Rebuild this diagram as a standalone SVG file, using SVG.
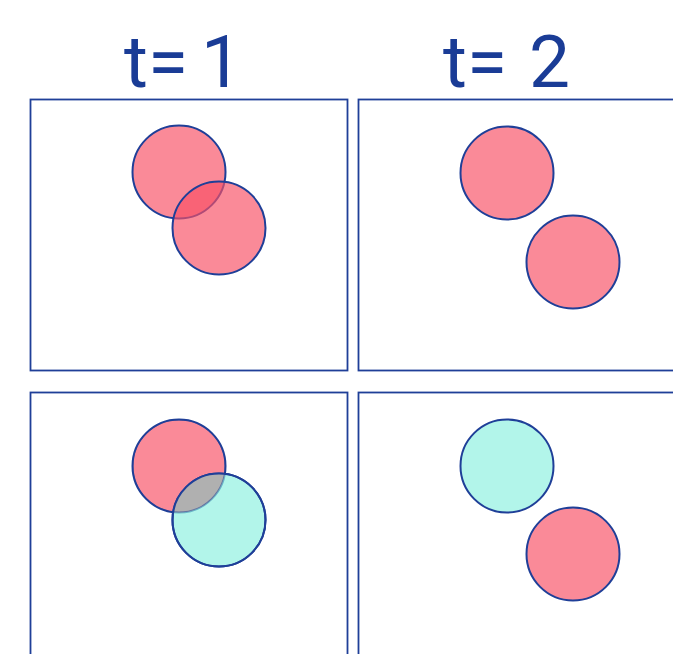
<svg xmlns="http://www.w3.org/2000/svg" width="673" height="654" viewBox="0 0 673 654">
<style>
.box{fill:none;stroke:#1f3f98;stroke-width:1.8}
.pink{fill:rgb(248,80,102);fill-opacity:0.67;stroke:#1f3f98;stroke-width:2}
.cyan{fill:rgb(140,240,224);fill-opacity:0.67;stroke:#1f3f98;stroke-width:2}
.lbl{font-family:Roboto,"Liberation Sans",sans-serif;font-size:73px;fill:#1a3c96}
</style>
<defs>
<clipPath id="c1"><circle cx="179" cy="466" r="46.5"/></clipPath>
</defs>
<rect width="673" height="654" fill="#fff"/>
<text class="lbl" x="124" y="87">t=<tspan x="201">1</tspan></text>
<text class="lbl" x="443" y="87">t=<tspan x="529">2</tspan></text>
<g id="p11">
<rect class="box" x="30.5" y="99.5" width="317" height="271"/>
<circle class="pink" cx="179" cy="172" r="46.5"/>
<circle class="pink" cx="219" cy="228" r="46.5"/>
</g>
<g id="p12">
<rect class="box" x="358.5" y="99.5" width="330" height="271"/>
<circle class="pink" cx="507" cy="173" r="46.5"/>
<circle class="pink" cx="573" cy="262" r="46.5"/>
</g>
<g id="p21">
<rect class="box" x="30.5" y="392.5" width="317" height="280"/>
<circle class="pink" cx="179" cy="466" r="46.5"/>
<circle class="cyan" cx="219" cy="520" r="46.5"/>
<circle cx="219" cy="520" r="46.5" fill="#b0b0b0" clip-path="url(#c1)"/>
<circle cx="179" cy="466" r="46.5" fill="none" stroke="#1f3f98" stroke-width="2" stroke-opacity="0.55" clip-path="url(#c1)"/>
<circle cx="219" cy="520" r="46.5" fill="none" stroke="#1f3f98" stroke-width="2"/>
</g>
<g id="p22">
<rect class="box" x="358.5" y="392.5" width="330" height="280"/>
<circle class="cyan" cx="507" cy="466" r="46.5"/>
<circle class="pink" cx="573" cy="554" r="46.5"/>
</g>
</svg>
